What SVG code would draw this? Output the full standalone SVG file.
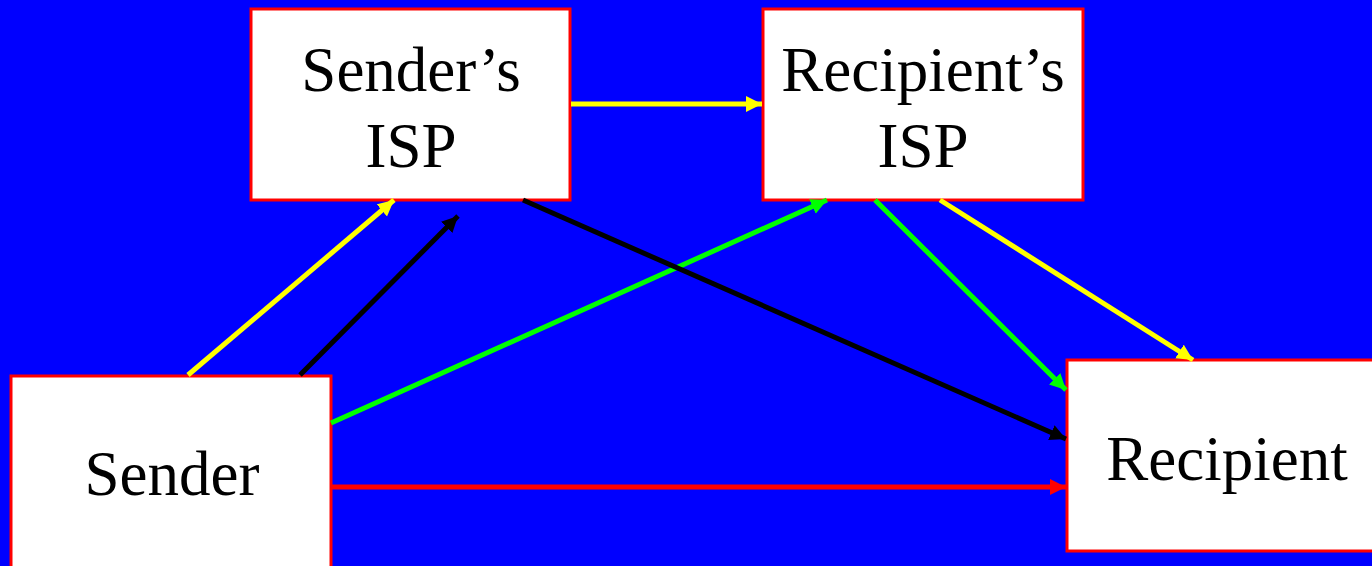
<svg xmlns="http://www.w3.org/2000/svg" width="1372" height="566" viewBox="0 0 1372 566">
<style>
.box{fill:#fff;stroke:#f00;stroke-width:3}
.lbl{font-family:"Liberation Serif","Times New Roman",serif;font-size:63px;fill:#000;text-anchor:middle}
.c{stroke-width:5;fill:none}
</style>
<defs>
<marker id="ay" markerUnits="userSpaceOnUse" markerWidth="17" markerHeight="17" refX="16" refY="8" orient="auto"><path d="M0,0 L16,8 L0,16 Z" fill="#ff0"/></marker>
<marker id="ak" markerUnits="userSpaceOnUse" markerWidth="17" markerHeight="17" refX="16" refY="8" orient="auto"><path d="M0,0 L16,8 L0,16 Z" fill="#000"/></marker>
<marker id="ag" markerUnits="userSpaceOnUse" markerWidth="17" markerHeight="17" refX="16" refY="8" orient="auto"><path d="M0,0 L16,8 L0,16 Z" fill="#0f0"/></marker>
<marker id="ar" markerUnits="userSpaceOnUse" markerWidth="17" markerHeight="17" refX="16" refY="8" orient="auto"><path d="M0,0 L16,8 L0,16 Z" fill="#f00"/></marker>
</defs>
<rect x="0" y="0" width="1372" height="566" fill="#00f"/>
<g id="sender-isp"><rect class="box" x="251" y="9" width="319" height="191"/><text class="lbl" x="411" y="91">Sender’s</text><text class="lbl" x="411" y="167">ISP</text></g>
<g id="recipient-isp"><rect class="box" x="763" y="9" width="320" height="191"/><text class="lbl" x="923" y="91">Recipient’s</text><text class="lbl" x="923" y="167">ISP</text></g>
<g id="sender"><rect class="box" x="11" y="376" width="320" height="200"/><text class="lbl" x="172" y="495">Sender</text></g>
<g id="recipient"><rect class="box" x="1067" y="360" width="320" height="191"/><text class="lbl" x="1227" y="480">Recipient</text></g>
<g id="connectors">
<line class="c" stroke="#ff0" x1="571" y1="104" x2="762" y2="104" marker-end="url(#ay)"/>
<line class="c" stroke="#ff0" x1="188" y1="375" x2="394" y2="200" marker-end="url(#ay)"/>
<line class="c" stroke="#000" x1="300" y1="375" x2="458" y2="216" marker-end="url(#ak)"/>
<line class="c" stroke="#0f0" x1="331" y1="423" x2="827" y2="200" marker-end="url(#ag)"/>
<line class="c" stroke="#000" x1="523" y1="200" x2="1066" y2="439" marker-end="url(#ak)"/>
<line class="c" stroke="#0f0" x1="875" y1="200" x2="1066" y2="390" marker-end="url(#ag)"/>
<line class="c" stroke="#ff0" x1="940" y1="200" x2="1193" y2="360" marker-end="url(#ay)"/>
<line class="c" stroke="#f00" x1="331" y1="487" x2="1066" y2="487" marker-end="url(#ar)"/>
</g>
</svg>
